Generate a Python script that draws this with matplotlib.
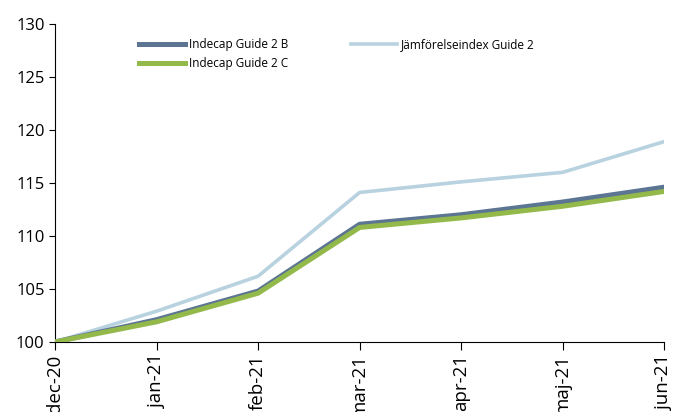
import matplotlib
matplotlib.use("Agg")
import matplotlib.pyplot as plt

plt.rcParams["font.family"] = ["Open Sans", "DejaVu Sans"]

months = ["dec-20", "jan-21", "feb-21", "mar-21", "apr-21", "maj-21", "jun-21"]
guide_b = [100.0, 102.1, 104.8, 111.1, 112.0, 113.2, 114.6]
guide_c = [100.0, 101.9, 104.6, 110.8, 111.7, 112.8, 114.2]
jamfor = [100.0, 102.9, 106.2, 114.1, 115.1, 116.0, 118.9]

fig = plt.figure(figsize=(6.75, 4.12), dpi=100)
ax = fig.add_axes([0.0815, 0.170, 0.9025, 0.772])

x = range(len(months))
ax.plot(x, jamfor, color="#b8d2e0", lw=2.6, label="Jämförelseindex Guide 2", zorder=2)
ax.plot(x, guide_b, color="#5b7592", lw=3.6, label="Indecap Guide 2 B", zorder=3)
ax.plot(x, guide_c, color="#93b94b", lw=3.6, label="Indecap Guide 2 C", zorder=4)

ax.set_xlim(0, len(months) - 1)
ax.set_ylim(100, 130)
ax.set_yticks(range(100, 131, 5))
ax.set_xticks(list(x))
ax.set_xticklabels(months, rotation=90, fontsize=13.5)
ax.tick_params(axis="y", labelsize=12, length=4, direction="out")
ax.tick_params(axis="x", length=6, direction="out", pad=3)
for side in ["top", "right"]:
    ax.spines[side].set_visible(False)

h, l = ax.get_legend_handles_labels()
order = [1, 2, 0]
ax.legend([h[i] for i in order], [l[i] for i in order], ncol=2, frameon=False,
          fontsize=8.5, loc="upper left", bbox_to_anchor=(0.12, 0.99),
          handlelength=3.9, handletextpad=0.35, columnspacing=5.3,
          labelspacing=0.55)

fig.savefig("out.png", dpi=100)
